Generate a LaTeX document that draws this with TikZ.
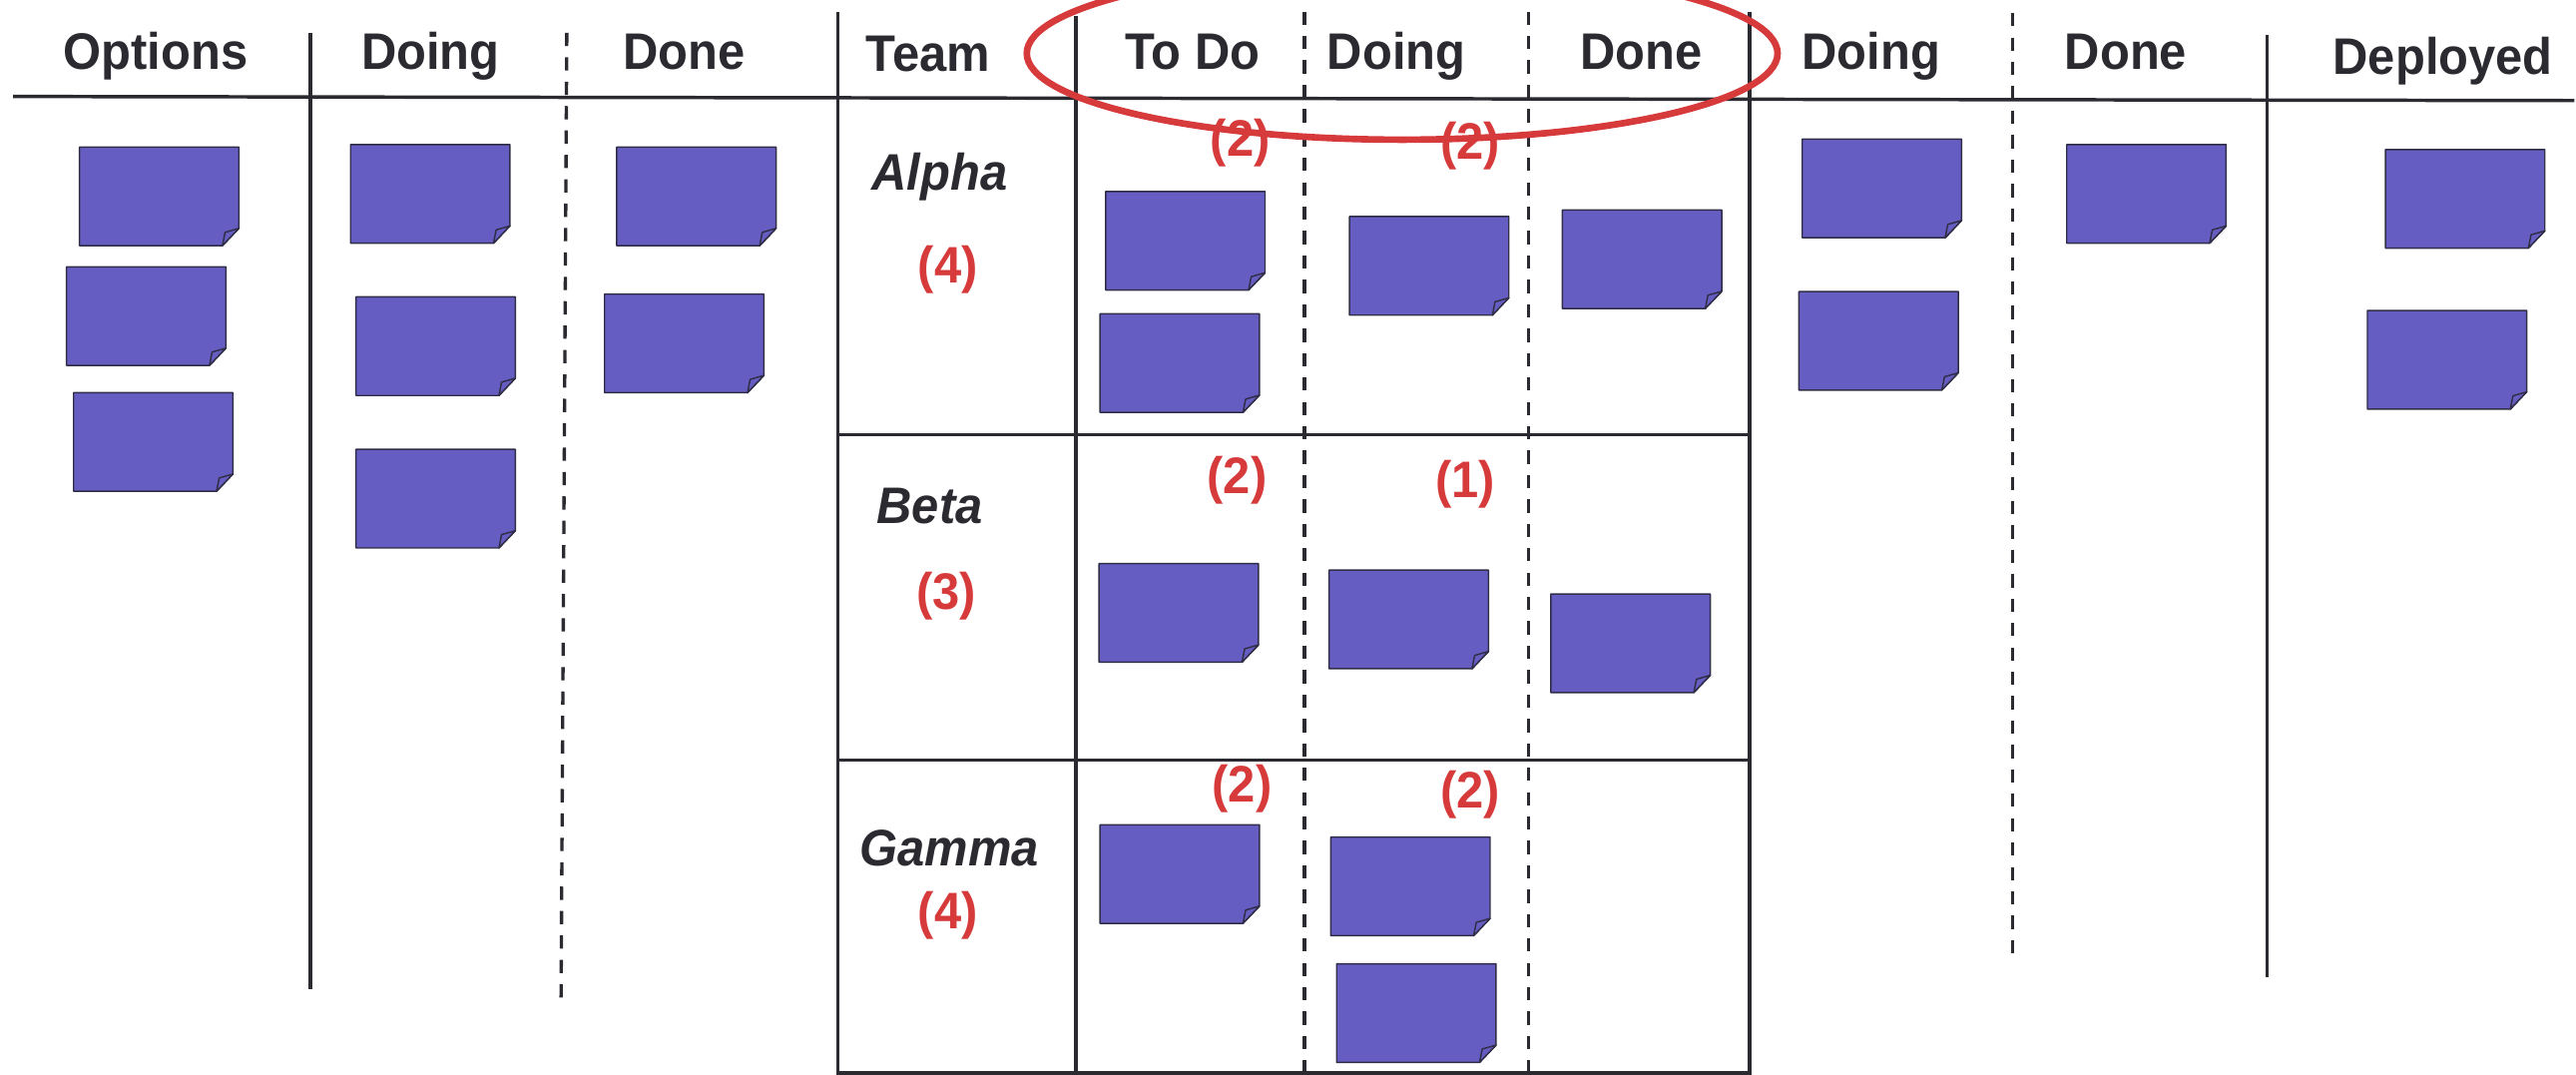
\documentclass[tikz,border=0pt]{standalone}
\usepackage{fontspec}
\setmainfont{Liberation Sans}[FakeStretch=0.95]
\definecolor{ink}{RGB}{42,42,48}
\definecolor{notefill}{RGB}{102,93,194}
\definecolor{notedraw}{RGB}{48,46,70}
\definecolor{redmark}{RGB}{214,58,58}
\begin{document}
\begin{tikzpicture}[x=0.02cm,y=-0.02cm,
  gridline/.style={draw=ink, line width=1.2pt},
  dashline/.style={draw=ink, line width=1.15pt, dash pattern=on 4.6pt off 3.85pt},
  hdr/.style={anchor=base, inner sep=0pt, text=ink, font=\fontsize{17.8}{20}\selectfont\bfseries},
  teamname/.style={anchor=base, inner sep=0pt, text=ink, font=\fontsize{17.8}{20}\selectfont\bfseries\itshape},
  cnt/.style={anchor=base, inner sep=0pt, text=redmark, font=\fontsize{17.8}{20}\selectfont\bfseries},
  sticky/.pic={
    \path[fill=notefill, draw=notedraw, line width=0.5pt, line join=round]
      (0,0) -- (97,0) -- (97,49.5) -- (87,60) -- (0,60) -- cycle;
    \path[fill=notefill, draw=notedraw, line width=0.5pt, line join=round]
      (97,49.5) -- (88.6,51.9) -- (87,60) -- cycle;
    \coordinate (-c) at (48.5,30);
  }
]
\useasboundingbox (0,0) rectangle (1568,654);

% header line
\coordinate (hl) at (8,58.7);
\coordinate (hr) at (1567,61.2);
\draw[gridline] (hl) -- (hr);

% left group verticals
\draw[gridline] (189,20) -- (189,602);
\draw[dashline] (345,20) -- (341.5,609);

% team grid
\draw[gridline] (510,7) -- (510,654);
\draw[gridline] (655,10) -- (655,654);
\draw[dashline] (794,7) -- (794,654);
\draw[dashline] (930.5,7) -- (930.5,654);
\draw[gridline] (1065,7) -- (1065,654);
\draw[gridline] (510,264.6) -- (1065,264.6);
\draw[gridline] (510,462.6) -- (1065,462.6);
\draw[gridline] (510,653) -- (1065,653);

% right group verticals
\draw[dashline] (1225,8) -- (1225,582);
\draw[gridline] (1380,21) -- (1380,595);

% headers
\node[hdr] (hOptions) at (94.7,42.5) {Options};
\node[hdr] (hDoingA) at (262,42.5) {Doing};
\node[hdr] (hDoneA) at (416.5,42.5) {Done};
\node[hdr] (hTeam) at (565,43.5) {Team};
\node[hdr] (hToDo) at (726,42.5) {To Do};
\node[hdr] (hDoingB) at (850,42.5) {Doing};
\node[hdr] (hDoneB) at (999,42.5) {Done};
\node[hdr] (hDoingC) at (1139,42) {Doing};
\node[hdr] (hDoneC) at (1294,42) {Done};
\node[hdr] (hDeployed) at (1487,45) {Deployed};

% team names and counts
\node[teamname] (tAlpha) at (572,115.5) {Alpha};
\node[teamname] (tBeta) at (566,318.7) {Beta};
\node[teamname] (tGamma) at (578,526.7) {Gamma};
\node[cnt] (cAlpha) at (577,172) {(4)};
\node[cnt] (cBeta) at (576,371) {(3)};
\node[cnt] (cGamma) at (577,565) {(4)};
\node[cnt] (aToDo) at (755,95) {(2)};
\node[cnt] (aDoing) at (895,97) {(2)};
\node[cnt] (bToDo) at (753,300.7) {(2)};
\node[cnt] (bDoing) at (892,302.8) {(1)};
\node[cnt] (gToDo) at (756,488) {(2)};
\node[cnt] (gDoing) at (895,491.5) {(2)};

% sticky notes
\pic (n1) at (48.4,89.5) {sticky};
\pic (n2) at (40.5,162.4) {sticky};
\pic (n3) at (44.8,239) {sticky};
\pic (n4) at (213.4,88) {sticky};
\pic (n5) at (216.7,180.7) {sticky};
\pic (n6) at (216.7,273.5) {sticky};
\pic (n7) at (375.4,89.5) {sticky};
\pic (n8) at (368,179) {sticky};
\pic (n9) at (673,116.5) {sticky};
\pic (n10) at (669.6,191) {sticky};
\pic (n11) at (821.4,131.8) {sticky};
\pic (n12) at (951,127.8) {sticky};
\pic (n13) at (669,343) {sticky};
\pic (n14) at (809,347) {sticky};
\pic (n15) at (944,361.5) {sticky};
\pic (n16) at (669.6,502) {sticky};
\pic (n17) at (810,509.5) {sticky};
\pic (n18) at (813.6,586.6) {sticky};
\pic (n19) at (1097,84.7) {sticky};
\pic (n20) at (1095,177.4) {sticky};
\pic (n21) at (1258,88) {sticky};
\pic (n22) at (1452,91) {sticky};
\pic (n23) at (1441,189) {sticky};

% red highlight ellipse
\begin{scope}
  \clip (0,0) rectangle (1568,654);
  \draw[redmark, line width=2.3pt] (853.5,32.5) ellipse [x radius=228.5, y radius=52.5];
\end{scope}
\end{tikzpicture}
\end{document}
